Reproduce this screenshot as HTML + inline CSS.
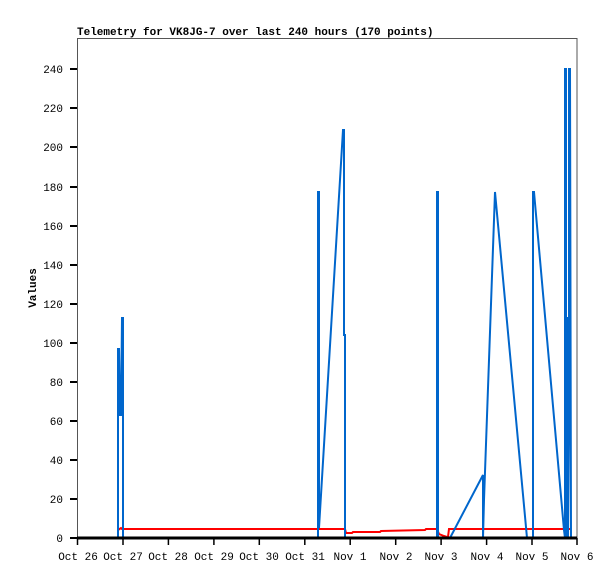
<!DOCTYPE html>
<html><head><style>body{margin:0;background:#fff}svg{display:block}</style></head><body>
<svg width="615" height="579" xmlns="http://www.w3.org/2000/svg" font-family="Liberation Mono, monospace">
<rect width="615" height="579" fill="#fff"/>
<text x="77" y="35" font-size="11" font-weight="bold">Telemetry for VK8JG-7 over last 240 hours (170 points)</text>
<rect x="77.5" y="38.5" width="499.5" height="499.5" fill="none" stroke="#555" stroke-width="1"/>
<text transform="translate(36,288) rotate(-90)" font-size="11" font-weight="bold" text-anchor="middle">Values</text>
<g font-size="11" text-anchor="end" fill="#000">
<g stroke="#000" stroke-width="2">
<line x1="70" y1="538" x2="77" y2="538"/><line x1="70" y1="499" x2="77" y2="499"/><line x1="70" y1="460" x2="77" y2="460"/><line x1="70" y1="421" x2="77" y2="421"/><line x1="70" y1="382" x2="77" y2="382"/><line x1="70" y1="343" x2="77" y2="343"/><line x1="70" y1="304" x2="77" y2="304"/><line x1="70" y1="265" x2="77" y2="265"/><line x1="70" y1="226" x2="77" y2="226"/><line x1="70" y1="187" x2="77" y2="187"/><line x1="70" y1="147" x2="77" y2="147"/><line x1="70" y1="108" x2="77" y2="108"/><line x1="70" y1="69" x2="77" y2="69"/>
</g>
<text x="63" y="542">0</text><text x="63" y="503">20</text><text x="63" y="464">40</text><text x="63" y="425">60</text><text x="63" y="386">80</text><text x="63" y="347">100</text><text x="63" y="308">120</text><text x="63" y="269">140</text><text x="63" y="230">160</text><text x="63" y="191">180</text><text x="63" y="151">200</text><text x="63" y="112">220</text><text x="63" y="73">240</text>
</g>
<g stroke="#000" stroke-width="1.5">
<line x1="77.5" y1="538" x2="77.5" y2="545"/><line x1="123" y1="538" x2="123" y2="545"/><line x1="168.4" y1="538" x2="168.4" y2="545"/><line x1="213.9" y1="538" x2="213.9" y2="545"/><line x1="259.3" y1="538" x2="259.3" y2="545"/><line x1="304.8" y1="538" x2="304.8" y2="545"/><line x1="350.2" y1="538" x2="350.2" y2="545"/><line x1="395.7" y1="538" x2="395.7" y2="545"/><line x1="441.1" y1="538" x2="441.1" y2="545"/><line x1="486.6" y1="538" x2="486.6" y2="545"/><line x1="532" y1="538" x2="532" y2="545"/><line x1="577" y1="538" x2="577" y2="545"/>
</g>
<g font-size="11" text-anchor="middle">
<text x="78" y="560">Oct 26</text><text x="123" y="560">Oct 27</text><text x="168" y="560">Oct 28</text><text x="214" y="560">Oct 29</text><text x="259" y="560">Oct 30</text><text x="305" y="560">Oct 31</text><text x="350" y="560">Nov 1</text><text x="396" y="560">Nov 2</text><text x="441" y="560">Nov 3</text><text x="487" y="560">Nov 4</text><text x="532" y="560">Nov 5</text><text x="577" y="560">Nov 6</text>
</g>
<polyline fill="none" stroke="#f00" stroke-width="2" points="118,530 121,528 122,529 345,529 346,533 352,533 353,532 380,532 381,531 425,530 426,529 437,529 439,534 444,536 447,537 448,537 449,529 571,529"/>
<polyline fill="none" stroke="#0066cc" stroke-width="2" points="118,538 118,349 119,349 120,415 121,415 122,318 123,318 123,538 318,538 318,192 319,192 319,528 343,130 344,130 344,335 345,335 345,538 437,538 437,192 438,192 438,538 450,538 483,475 483,538 484,500 495,192 527,538 533,538 533,192 534,192 564,530 565,538 565,69 566,69 566,538 567,318 568,318 568,538 569,420 569,69 570,69 571,538"/>
<line x1="77" y1="538" x2="577" y2="538" stroke="#000" stroke-width="3"/>
</svg>
</body></html>
